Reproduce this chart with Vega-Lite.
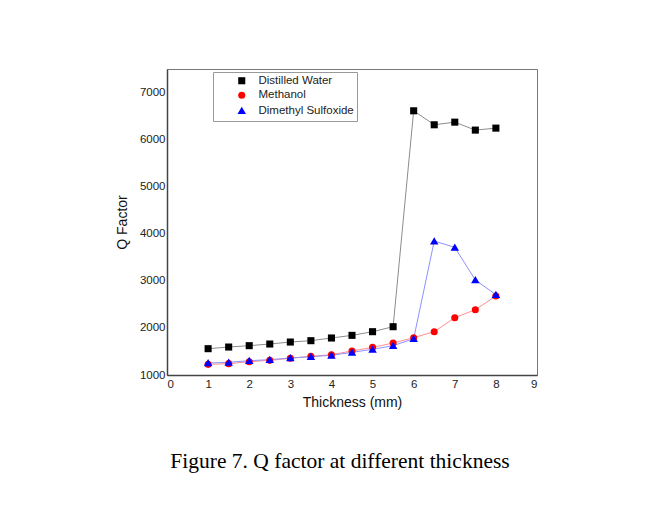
{
  "$schema": "https://vega.github.io/schema/vega-lite/v6.json",
  "width": 370,
  "height": 306,
  "autosize": {"type": "none"},
  "padding": {"left": 167, "top": 69, "right": 131, "bottom": 133},
  "background": "white",
  "config": {
    "font": "Liberation Sans",
    "view": {"stroke": "#777", "strokeWidth": 1}
  },
  "title": {
    "text": "Figure 7. Q factor at different thickness",
    "orient": "bottom",
    "font": "Liberation Serif",
    "fontSize": 21.5,
    "fontWeight": "normal",
    "color": "#000",
    "offset": 41,
    "dx": -12,
    "anchor": "middle"
  },
  "data": {
    "values": [
      {"series": "Distilled Water", "t": 1, "q": 1559},
      {"series": "Distilled Water", "t": 1.5, "q": 1594},
      {"series": "Distilled Water", "t": 2, "q": 1623},
      {"series": "Distilled Water", "t": 2.5, "q": 1658},
      {"series": "Distilled Water", "t": 3, "q": 1700},
      {"series": "Distilled Water", "t": 3.5, "q": 1729},
      {"series": "Distilled Water", "t": 4, "q": 1786},
      {"series": "Distilled Water", "t": 4.5, "q": 1842},
      {"series": "Distilled Water", "t": 5, "q": 1920},
      {"series": "Distilled Water", "t": 5.5, "q": 2026},
      {"series": "Distilled Water", "t": 6, "q": 6612},
      {"series": "Distilled Water", "t": 6.5, "q": 6315},
      {"series": "Distilled Water", "t": 7, "q": 6371},
      {"series": "Distilled Water", "t": 7.5, "q": 6202},
      {"series": "Distilled Water", "t": 8, "q": 6244},
      {"series": "Methanol", "t": 1, "q": 1226},
      {"series": "Methanol", "t": 1.5, "q": 1241},
      {"series": "Methanol", "t": 2, "q": 1283},
      {"series": "Methanol", "t": 2.5, "q": 1311},
      {"series": "Methanol", "t": 3, "q": 1354},
      {"series": "Methanol", "t": 3.5, "q": 1396},
      {"series": "Methanol", "t": 4, "q": 1432},
      {"series": "Methanol", "t": 4.5, "q": 1510},
      {"series": "Methanol", "t": 5, "q": 1587},
      {"series": "Methanol", "t": 5.5, "q": 1679},
      {"series": "Methanol", "t": 6, "q": 1793},
      {"series": "Methanol", "t": 6.5, "q": 1920},
      {"series": "Methanol", "t": 7, "q": 2217},
      {"series": "Methanol", "t": 7.5, "q": 2387},
      {"series": "Methanol", "t": 8, "q": 2677},
      {"series": "Dimethyl Sulfoxide", "t": 1, "q": 1255},
      {"series": "Dimethyl Sulfoxide", "t": 1.5, "q": 1269},
      {"series": "Dimethyl Sulfoxide", "t": 2, "q": 1304},
      {"series": "Dimethyl Sulfoxide", "t": 2.5, "q": 1326},
      {"series": "Dimethyl Sulfoxide", "t": 3, "q": 1361},
      {"series": "Dimethyl Sulfoxide", "t": 3.5, "q": 1389},
      {"series": "Dimethyl Sulfoxide", "t": 4, "q": 1418},
      {"series": "Dimethyl Sulfoxide", "t": 4.5, "q": 1481},
      {"series": "Dimethyl Sulfoxide", "t": 5, "q": 1545},
      {"series": "Dimethyl Sulfoxide", "t": 5.5, "q": 1623},
      {"series": "Dimethyl Sulfoxide", "t": 6, "q": 1771},
      {"series": "Dimethyl Sulfoxide", "t": 6.5, "q": 3845},
      {"series": "Dimethyl Sulfoxide", "t": 7, "q": 3711},
      {"series": "Dimethyl Sulfoxide", "t": 7.5, "q": 3018},
      {"series": "Dimethyl Sulfoxide", "t": 8, "q": 2706}
    ]
  },
  "encoding": {
    "x": {
      "field": "t", "type": "quantitative",
      "scale": {"domain": [0, 9], "nice": false, "zero": false},
      "axis": {
        "title": "Thickness (mm)", "values": [0,1,2,3,4,5,6,7,8,9], "format": "d",
        "grid": false, "ticks": false, "labelPadding": 3,
        "domainColor": "#444", "domainWidth": 1.5,
        "labelFontSize": 11.5, "labelColor": "#222",
        "titleFontSize": 14, "titleFontWeight": "normal", "titleColor": "#111", "titlePadding": 6
      }
    },
    "y": {
      "field": "q", "type": "quantitative",
      "scale": {"domain": [1000, 7500], "nice": false, "zero": false},
      "axis": {
        "title": "Q Factor", "values": [1000,2000,3000,4000,5000,6000,7000], "format": "d",
        "grid": false, "ticks": false, "labelPadding": 2,
        "domainColor": "#444", "domainWidth": 1.5,
        "labelFontSize": 11.5, "labelColor": "#222",
        "titleFontSize": 14, "titleFontWeight": "normal", "titleColor": "#111", "titlePadding": 10
      }
    }
  },
  "layer": [
    {
      "mark": {"type": "line", "strokeWidth": 1},
      "encoding": {
        "stroke": {
          "field": "series", "type": "nominal",
          "scale": {"domain": ["Distilled Water", "Dimethyl Sulfoxide", "Methanol"], "range": ["#8c8c8c", "#8f8fff", "#ff8f8f"]},
          "legend": null
        }
      }
    },
    {
      "mark": {"type": "point", "filled": true, "opacity": 1, "strokeWidth": 0, "size": 50},
      "encoding": {
        "color": {
          "field": "series", "type": "nominal",
          "scale": {"domain": ["Distilled Water", "Methanol", "Dimethyl Sulfoxide"], "range": ["#000000", "#ff0000", "#0000ff"]},
          "legend": {
            "title": null,
            "orient": "none",
            "legendX": 46,
            "legendY": 3,
            "padding": 3,
            "rowPadding": 0.5,
            "strokeColor": "#999",
            "fillColor": "white",
            "labelFont": "Liberation Sans",
            "labelFontSize": 11.5,
            "labelColor": "#222",
            "labelOffset": 11,
            "symbolOffset": 20,
            "symbolSize": 50,
            "symbolOpacity": 1
          }
        },
        "shape": {
          "field": "series", "type": "nominal",
          "scale": {"domain": ["Distilled Water", "Methanol", "Dimethyl Sulfoxide"], "range": ["square", "circle", "M0,-1.1L1.2,0.95L-1.2,0.95Z"]}
        }
      }
    }
  ]
}
